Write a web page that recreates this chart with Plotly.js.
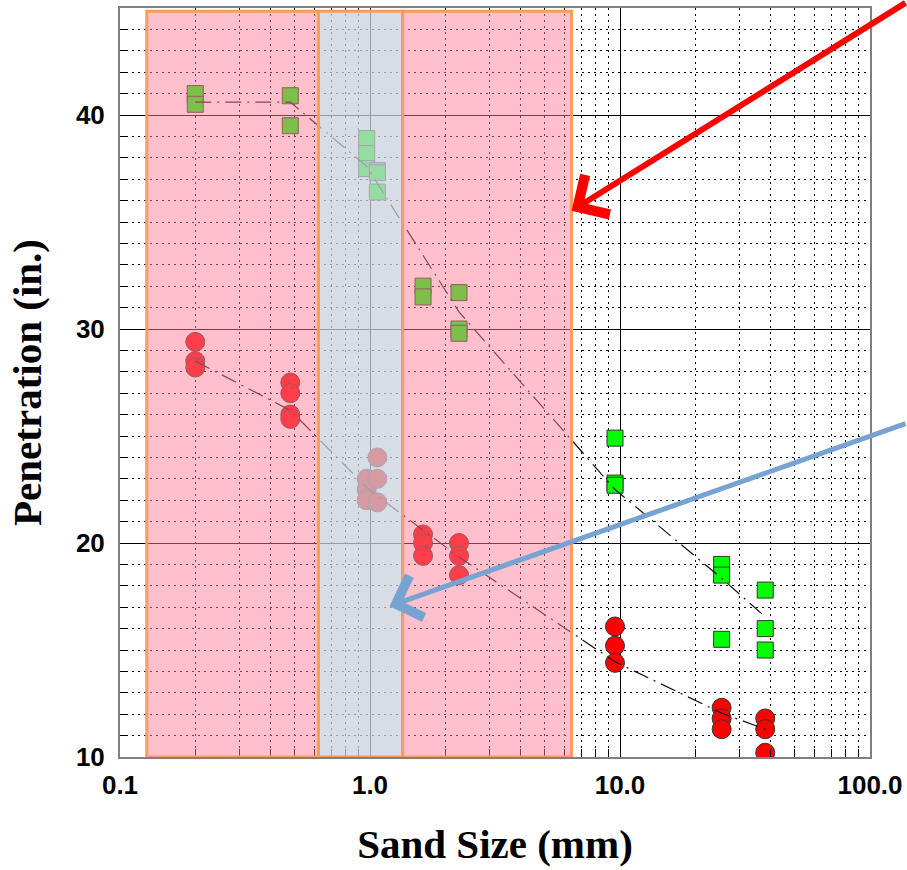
<!DOCTYPE html>
<html>
<head>
<meta charset="utf-8">
<script src="https://cdn.plot.ly/plotly-3.0.1.min.js"></script>
<style>html,body{margin:0;padding:0;background:#fff;}#chart{width:907px;height:870px;}</style>
</head>
<body>
<div id="chart"></div>
<script>
// Green squares
const greenX = [0.2, 0.2, 0.48, 0.48, 0.97, 0.97, 0.97, 1.07, 1.07, 1.07, 1.63, 1.63, 2.27, 2.27, 2.27, 9.55, 9.55, 9.55, 25.5, 25.5, 25.5, 38.1, 38.1, 38.1];
const greenY = [41.0, 40.5, 40.9, 39.5, 38.9, 38.2, 37.5, 37.4, 37.3, 36.4, 32.0, 31.5, 31.7, 30.0, 29.8, 24.9, 22.8, 22.7, 19.0, 18.5, 15.5, 17.8, 16.0, 15.0];
// Red circles
const redX = [0.2, 0.2, 0.2, 0.48, 0.48, 0.48, 0.48, 0.97, 0.97, 0.97, 1.07, 1.07, 1.07, 1.63, 1.63, 1.63, 2.27, 2.27, 2.27, 9.55, 9.55, 9.55, 25.5, 25.5, 25.5, 38.1, 38.1, 38.1];
const redY = [29.4, 28.5, 28.2, 27.5, 27.0, 26.0, 25.8, 23.0, 22.5, 22.0, 24.0, 23.0, 21.9, 20.4, 20.0, 19.4, 20.0, 19.4, 18.5, 16.1, 15.2, 14.4, 12.3, 11.8, 11.3, 11.8, 11.3, 10.2];
// Trend lines
const greenTrendX = [0.2, 0.48, 0.97, 1.07, 2.27, 9.55, 25.5, 38.1];
const greenTrendY = [40.6, 40.6, 37.6, 36.8, 30.8, 22.5, 18.35, 16.55];
const redTrendX = [0.2, 0.48, 0.97, 1.07, 1.63, 2.27, 9.55, 25.5, 38.1];
const redTrendY = [28.5, 26.2, 22.6, 22.2, 20.6, 19.35, 14.45, 12.05, 11.3];
// Highlight bands (sand size ranges)
const bandX0 = [0.128, 0.622, 1.35];
const bandX1 = [0.622, 1.35, 6.4];
const bandFill = ['rgba(255,127,149,0.49)', 'rgba(203,208,219,0.74)', 'rgba(255,127,149,0.49)'];
const bandTop = 44.85;

const traces = [
  {x: greenX, y: greenY, type: 'scatter', mode: 'markers',
   marker: {symbol: 'square', size: 16, color: '#00ff00', line: {color: '#333333', width: 1}}},
  {x: redX, y: redY, type: 'scatter', mode: 'markers',
   marker: {symbol: 'circle', size: 19, color: '#ff0000', line: {color: '#333333', width: 1}}},
  {x: greenTrendX, y: greenTrendY, type: 'scatter', mode: 'lines',
   line: {color: '#111111', width: 1.2, dash: '16px,6px,2px,6px'}},
  {x: redTrendX, y: redTrendY, type: 'scatter', mode: 'lines',
   line: {color: '#111111', width: 1.2, dash: '16px,6px,2px,6px'}}
];

const shapes = bandX0.map((x0, i) => ({
  type: 'rect', xref: 'x', yref: 'y', layer: 'above',
  x0: x0, x1: bandX1[i], y0: 10, y1: bandTop,
  fillcolor: bandFill[i], line: {color: 'rgb(248,155,100)', width: 3}
}));

const tickFont = {family: 'Liberation Sans, Arial, sans-serif', size: 26, color: '#000', weight: 'bold'};
const titleFont = {family: 'Liberation Serif, Times New Roman, serif', size: 41, color: '#000', weight: 'bold'};

const layout = {
  width: 907, height: 870,
  margin: {l: 120, r: 37, t: 8, b: 113},
  paper_bgcolor: '#fff', plot_bgcolor: '#fff',
  showlegend: false,
  xaxis: {
    type: 'log', range: [-1, 2], dtick: 1, tickformat: '.1f',
    showgrid: true, gridcolor: '#000', gridwidth: 1,
    ticks: 'inside', ticklen: 15, tickcolor: '#000',
    showline: true, linecolor: '#808080', linewidth: 2, mirror: true,
    zeroline: false, tickfont: tickFont, ticklabelstandoff: 4,
    minor: {dtick: 'D1', showgrid: true, gridcolor: '#000', gridwidth: 1, griddash: '2px,4px',
            ticks: 'inside', ticklen: 8, tickcolor: '#000'},
    title: {text: 'Sand Size (mm)', font: titleFont, standoff: 30}
  },
  yaxis: {
    range: [10, 45], dtick: 10,
    showgrid: true, gridcolor: '#000', gridwidth: 1,
    ticks: 'inside', ticklen: 15, tickcolor: '#000',
    showline: true, linecolor: '#808080', linewidth: 2, mirror: true,
    zeroline: false, tickfont: tickFont, ticklabelstandoff: 8,
    minor: {dtick: 1, showgrid: true, gridcolor: '#000', gridwidth: 1, griddash: '2px,4px',
            ticks: 'inside', ticklen: 8, tickcolor: '#000'},
    title: {text: 'Penetration (in.)', font: titleFont, standoff: 22}
  },
  shapes: shapes,
  annotations: [
    {x: Math.log10(6.4), y: 35.52, xref: 'x', yref: 'y', text: '', showarrow: true,
     ax: 345, ay: -209, axref: 'pixel', ayref: 'pixel',
     arrowcolor: '#ff0000', arrowwidth: 6, arrowhead: 4, arrowsize: 1.5, standoff: 0},
    {x: Math.log10(1.197), y: 17.05, xref: 'x', yref: 'y', text: '', showarrow: true,
     ax: 527, ay: -183, axref: 'pixel', ayref: 'pixel',
     arrowcolor: 'rgb(119,163,210)', arrowwidth: 5, arrowhead: 4, arrowsize: 1.7, standoff: 0}
  ]
};

Plotly.newPlot('chart', traces, layout, {displayModeBar: false, staticPlot: true});
</script>
</body>
</html>
